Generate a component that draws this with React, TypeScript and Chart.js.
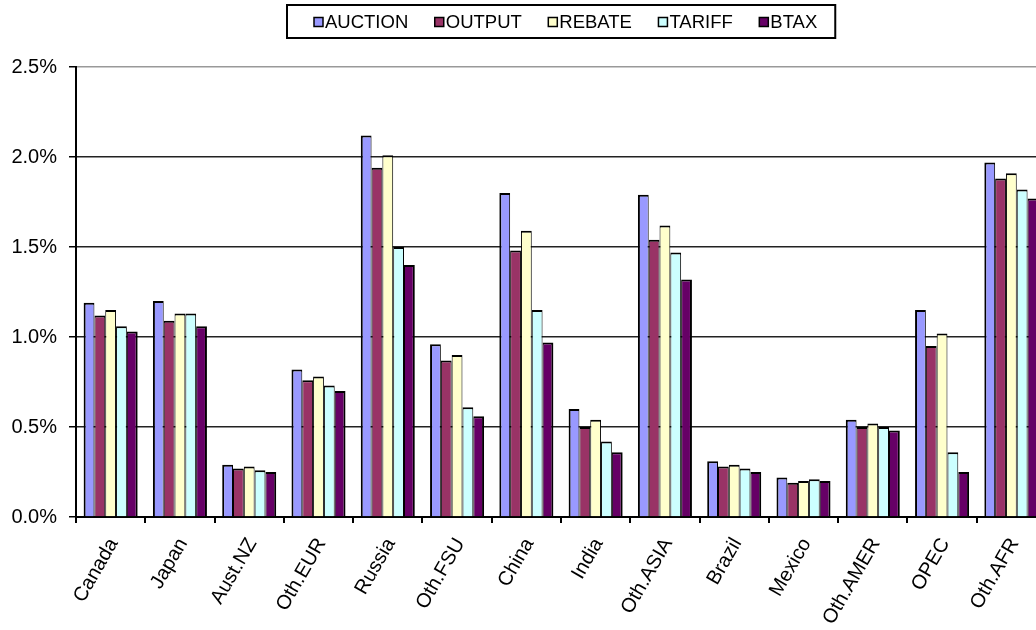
import React, { useEffect, useRef } from "react";
import { Chart, registerables } from "chart.js";

Chart.register(...registerables);

// Regions and scenario results (percent)
const regions = [
  "Canada", "Japan", "Aust.NZ", "Oth.EUR", "Russia", "Oth.FSU", "China",
  "India", "Oth.ASIA", "Brazil", "Mexico", "Oth.AMER", "OPEC", "Oth.AFR",
];
const auction = [1.19, 1.20, 0.29, 0.82, 2.12, 0.96, 1.80, 0.60, 1.79, 0.31, 0.22, 0.54, 1.15, 1.97];
const output = [1.12, 1.09, 0.27, 0.76, 1.94, 0.87, 1.48, 0.50, 1.54, 0.28, 0.19, 0.50, 0.95, 1.88];
const rebate = [1.15, 1.13, 0.28, 0.78, 2.01, 0.90, 1.59, 0.54, 1.62, 0.29, 0.20, 0.52, 1.02, 1.91];
const tariff = [1.06, 1.13, 0.26, 0.73, 1.50, 0.61, 1.15, 0.42, 1.47, 0.27, 0.21, 0.50, 0.36, 1.82];
const btax = [1.03, 1.06, 0.25, 0.70, 1.40, 0.56, 0.97, 0.36, 1.32, 0.25, 0.20, 0.48, 0.25, 1.77];

const seriesNames = ["AUCTION", "OUTPUT", "REBATE", "TARIFF", "BTAX"];
const seriesValues = [auction, output, rebate, tariff, btax];
const seriesColors = ["#9999FF", "#993366", "#FFFFCC", "#CCFFFF", "#660066"];

const yMax = 2.5;
const yStep = 0.5;

const FONT = "'Liberation Sans', Arial, Helvetica, sans-serif";
const CANVAS_W = 1122;
const CANVAS_H = 630;

// Framed legend drawn across the top of the chart
const boxLegend = {
  id: "boxLegend",
  afterDraw(chart: any) {
    const ctx = chart.ctx as CanvasRenderingContext2D;
    ctx.save();
    ctx.font = `18.5px ${FONT}`;
    const items = chart.data.datasets.map((ds: any) => ({
      label: ds.label as string,
      color: ds.backgroundColor as string,
      w: ctx.measureText(ds.label).width,
    }));
    const sq = 9;
    const gap = 2;
    const space = 26.5;
    const content = items.reduce(
      (s: number, it: any, i: number) => s + sq + gap + it.w + (i ? space : 0),
      0
    );
    const padL = 27;
    const padR = 18;
    const boxW = content + padL + padR;
    const left = Math.round(chart.width / 2 - boxW / 2);
    const top = 5;
    const h = 33;
    ctx.lineWidth = 2;
    ctx.strokeStyle = "#000";
    ctx.strokeRect(left, top, boxW, h);
    let x = left + padL;
    const cy = 22;
    ctx.textBaseline = "middle";
    ctx.textAlign = "left";
    items.forEach((it: any) => {
      ctx.fillStyle = it.color;
      ctx.fillRect(x, cy - 4.5, sq, sq);
      ctx.lineWidth = 1.5;
      ctx.strokeRect(x, cy - 4.5, sq, sq);
      ctx.fillStyle = "#000";
      ctx.fillText(it.label, x + sq + gap, cy + 1);
      x += sq + gap + it.w + space;
    });
    ctx.restore();
  },
};

export default function App() {
  const canvasRef = useRef<HTMLCanvasElement | null>(null);

  useEffect(() => {
    if (!canvasRef.current) return;
    const last = seriesNames.length - 1;
    const chart = new Chart(canvasRef.current, {
      type: "bar",
      data: {
        labels: regions,
        datasets: seriesNames.map((name, i) => ({
          label: name,
          data: seriesValues[i],
          backgroundColor: seriesColors[i],
          borderColor: "#000",
          borderWidth: {
            top: 2,
            bottom: 0,
            left: i === 0 ? 2 : 1,
            right: i === last ? 2 : 1,
          },
          barPercentage: 1,
          categoryPercentage: 0.78,
        })),
      },
      options: {
        animation: false,
        responsive: false,
        devicePixelRatio: 1,
        layout: { padding: { top: 67, right: 76, left: 0, bottom: 0 } },
        plugins: {
          legend: { display: false },
          tooltip: { enabled: false },
        },
        scales: {
          x: {
            type: "category",
            offset: true,
            grid: {
              offset: true,
              drawOnChartArea: false,
              drawTicks: true,
              tickLength: 6,
              color: "#000",
              lineWidth: 2,
            },
            border: { display: true, color: "#000", width: 2 },
            ticks: {
              minRotation: 60,
              maxRotation: 60,
              autoSkip: false,
              color: "#000",
              padding: 11,
              labelOffset: 3,
              font: { family: FONT, size: 20 },
            },
            afterFit(scale: any) {
              scale.height = CANVAS_H - 517;
            },
          },
          y: {
            min: 0,
            max: yMax,
            ticks: {
              stepSize: yStep,
              color: "#000",
              padding: 12,
              font: { family: FONT, size: 20 },
              callback: (v: any) => Number(v).toFixed(1) + "%",
            },
            grid: {
              color: (c: any) => (c.tick && c.tick.value === yMax ? "#999" : "#222"),
              tickColor: "#000",
              tickLength: 7,
              lineWidth: 1.5,
            },
            border: { display: true, color: "#000", width: 2 },
            afterFit(scale: any) {
              scale.width = 76;
            },
          },
        },
      },
      plugins: [boxLegend],
    });
    return () => chart.destroy();
  }, []);

  return (
    <div
      style={{
        position: "absolute",
        left: 0,
        top: 0,
        width: 1036,
        height: 630,
        overflow: "hidden",
        background: "#fff",
      }}
    >
      <canvas
        ref={canvasRef}
        width={CANVAS_W}
        height={CANVAS_H}
        style={{ width: CANVAS_W, height: CANVAS_H, display: "block" }}
      />
    </div>
  );
}
